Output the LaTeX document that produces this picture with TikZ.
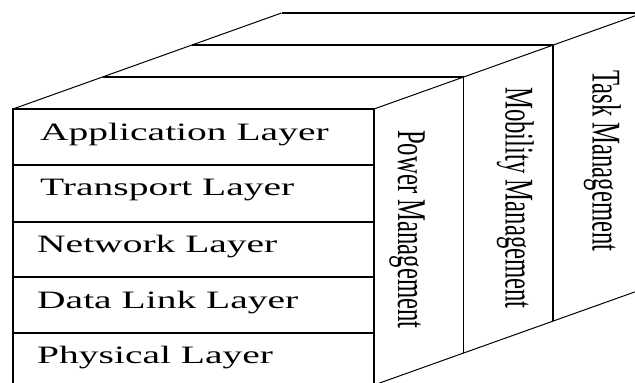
\documentclass[tikz,border=0pt]{standalone}
\usepackage{fontspec}
\setmainfont{Liberation Serif}
\usepackage{graphicx}
\begin{document}
\begin{tikzpicture}[x=1pt,y=-1pt,
  edge/.style={line width=1.3pt,black},
  diag/.style={line width=1pt,black},
  layertext/.style={anchor=base west,inner sep=0pt,font=\fontsize{25}{30}\selectfont},
  sidetext/.style={anchor=north east,inner sep=0pt,font=\fontsize{24.7}{30}\selectfont}]
\useasboundingbox (0,0) rectangle (635,383);
\clip (0,0) rectangle (635,383);
% corners
\coordinate (FTL) at (13,109);
\coordinate (FTR) at (374,109);
\coordinate (FBR) at (374,389);
\coordinate (FBL) at (13,389);
\coordinate (L1) at (102.5,77);
\coordinate (L2) at (192,45);
\coordinate (L3) at (281.5,13);
\coordinate (R1) at (463.5,77);
\coordinate (R2) at (553,45);
\coordinate (R3) at (643,13);
\coordinate (B0) at (374,385);
\coordinate (B1) at (463.5,353);
\coordinate (B2) at (553,321);
\coordinate (B3) at (643,289);
% front box
\draw[edge] (FTL) rectangle (FBR);
\foreach \y in {165,222,277,333} \draw[edge] (13,\y) -- (374,\y);
% top face
\draw[diag] (FTL) -- (L3);
\draw[diag] (FTR) -- (R3);
\draw[edge] (L1) -- (R1);
\draw[edge] (L2) -- (R2);
\draw[edge] (L3) -- (R3);
% side panels
\draw[edge] (R1) -- (B1);
\draw[edge] (R2) -- (B2);
\draw[diag] (B0) -- (B3);
% layer texts
\node[layertext] (app) at (40,140) {\scalebox{1.58}[1]{Application Layer}};
\node[layertext] (tra) at (40,195) {\scalebox{1.58}[1]{Transport Layer}};
\node[layertext] (net) at (37,252) {\scalebox{1.58}[1]{Network Layer}};
\node[layertext] (dll) at (37,308) {\scalebox{1.58}[1]{Data Link Layer}};
\node[layertext] (phy) at (37,363) {\scalebox{1.58}[1]{Physical Layer}};
% side texts
\node[sidetext] (pow) at (425,130) {\scalebox{1.65}[1]{\rotatebox{-90}{Power Management}}};
\node[sidetext] (mob) at (534,87) {\scalebox{1.65}[1]{\rotatebox{-90}{Mobility Management}}};
\node[sidetext] (task) at (621,70) {\scalebox{1.65}[1]{\rotatebox{-90}{Task Management}}};
\end{tikzpicture}
\end{document}
